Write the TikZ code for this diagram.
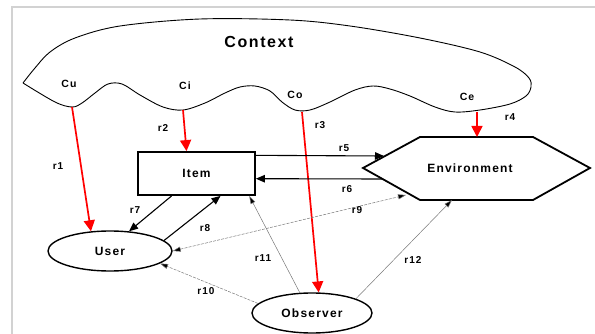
\documentclass[tikz,border=0pt]{standalone}
\usepackage{fontspec}
\setmainfont{Liberation Sans}[LetterSpace=10]
\usetikzlibrary{arrows.meta,shapes.geometric}
\definecolor{framegray}{RGB}{210,210,210}
\definecolor{thingray}{RGB}{120,120,120}
\tikzset{
  ent/.style={draw=black,line width=1.8pt,fill=white,inner sep=0pt,font=\bfseries\fontsize{12}{12}\selectfont},
  ell/.style={ent,ellipse,line width=1.4pt},
  lab/.style={font=\bfseries\fontsize{10}{10}\selectfont,inner sep=1pt},
  clab/.style={font=\bfseries\fontsize{10.5}{10.5}\selectfont,inner sep=1pt},
  redarr/.style={draw=red,line width=1.7pt,-{Triangle[length=11pt,width=11pt,fill=red]}},
  blkarr/.style={draw=black,line width=1.1pt,-{Triangle[length=9pt,width=7.5pt]}},
  grayarr/.style={draw=thingray,line width=0.5pt,-{Triangle[length=8pt,width=5pt,fill=black]}},
  grayarrs/.style={grayarr,{Triangle[length=8pt,width=5pt,fill=black]}-{Triangle[length=8pt,width=5pt,fill=black]}},
}
\begin{document}
\begin{tikzpicture}[x=1pt,y=-1pt]
\useasboundingbox (0,0) rectangle (595,334);
% frame
\draw[framegray,line width=1.5pt] (12,334) -- (12,7) -- (595,7);
% context cloud
\draw[line width=0.9pt] plot[smooth,tension=0.55] coordinates {
 (23,83) (35,68) (50,52) (75,38) (120,26) (200,19) (290,20) (350,26) (420,38)
 (480,52) (515,67) (529,78) (531,87) (526,96) (510,104) (480,110) (455,112)
 (435,107) (410,96) (390,89) (373,86) (355,90) (330,102) (310,110) (295,110)
 (282,102) (270,91) (255,86) (240,87) (225,93) (205,103) (183,110) (163,107)
 (140,95) (122,84) (108,84) (95,93) (82,103) (72,107) (55,102) (23,83)};
\coordinate (cu) at (72,107);
\coordinate (ci) at (183,110);
\coordinate (co) at (302,112);
\coordinate (ce) at (477,112);
\node[font=\bfseries\fontsize{16}{16}\selectfont] (ctx) at (259,42) {Context};
\node[clab] (tcu) at (69,84) {Cu};
\node[clab] (tci) at (185,86) {Ci};
\node[clab] (tco) at (295,95) {Co};
\node[clab] (tce) at (467,97) {Ce};
% item
\node[ent,minimum width=117pt,minimum height=43pt] (item) at (196.5,173.5) {Item};
% environment hexagon
\coordinate (e1) at (363,168);
\coordinate (e2) at (420,137);
\coordinate (e3) at (533,137);
\coordinate (e4) at (590,168);
\coordinate (e5) at (533,200);
\coordinate (e6) at (420,200);
\draw[line width=1.8pt,fill=white,line join=miter] (e1) -- (e2) -- (e3) -- (e4) -- (e5) -- (e6) -- cycle;
\node[font=\bfseries\fontsize{12}{12}\selectfont] (env) at (470,168) {Environment};
\coordinate (envtop) at (477,137);
\coordinate (env5) at (384,156);
\coordinate (env6) at (382,179);
\coordinate (env9) at (406,195);
\coordinate (env12) at (452,200);
% user, observer
\node[ell,minimum width=124pt,minimum height=40pt] (user) at (110,251) {User};
\node[ell,minimum width=120pt,minimum height=40pt] (obs) at (312,313) {Observer};
% red arrows
\draw[redarr] (cu) -- (user.134);
\draw[redarr] (ci) -- (item.114);
\draw[redarr] (co) -- (obs.72);
\draw[redarr] (ce) -- (envtop);
% black arrows
\draw[blkarr] (item.17) -- (env5);
\draw[blkarr] (env6) -- (item.-5);
\draw[blkarr] (item.222) -- (user.46);
\draw[blkarr] (user.11) -- (item.317);
% gray arrows
\draw[grayarrs,dash pattern=on 3pt off 1.2pt] (user.east) -- (env9);
\draw[grayarr,dash pattern=on 3pt off 1.2pt] (obs.170) -- (user.346);
\draw[grayarr] (obs.121) -- (item.337);
\draw[grayarr] (obs.18) -- (env12);
% labels
\node[lab] (l1) at (58,166) {r1};
\node[lab] (l2) at (163,128) {r2};
\node[lab] (l3) at (320,125) {r3};
\node[lab] (l4) at (510,117) {r4};
\node[lab] (l5) at (344,148) {r5};
\node[lab] (l6) at (347,189) {r6};
\node[lab] (l7) at (135,210) {r7};
\node[lab] (l8) at (205,228) {r8};
\node[lab] (l9) at (357,210) {r9};
\node[lab] (l10) at (206,291) {r10};
\node[lab] (l11) at (263,258) {r11};
\node[lab] (l12) at (413,260) {r12};
\end{tikzpicture}
\end{document}
